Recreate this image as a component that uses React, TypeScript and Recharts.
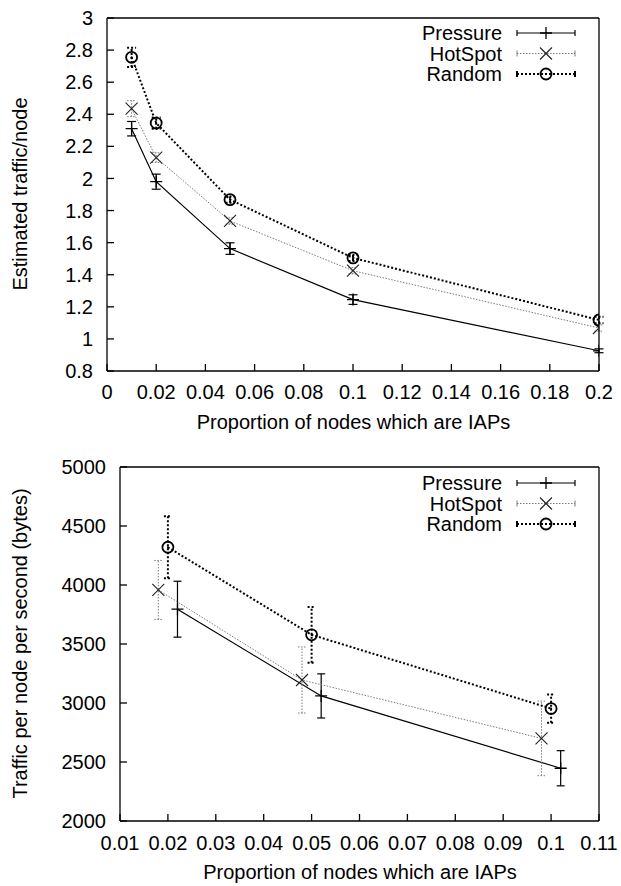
import { LineChart, Line, XAxis, YAxis, ErrorBar } from 'recharts';

// top panel: estimated traffic per node
const topX = [0.01, 0.02, 0.05, 0.1, 0.2];
const topPressure = [2.31, 1.98, 1.563, 1.245, 0.926];
const topPressureErr = [0.045, 0.047, 0.036, 0.03, 0.012];
const topHotSpot = [2.435, 2.13, 1.735, 1.425, 1.068];
const topHotSpotErr = [0.05, 0.03, 0.02, 0.02, 0.02];
const topRandom = [2.755, 2.345, 1.868, 1.505, 1.118];
const topRandomErr = [0.06, 0.035, 0.02, 0.02, 0.02];
const topXTicks = [0, 0.02, 0.04, 0.06, 0.08, 0.1, 0.12, 0.14, 0.16, 0.18, 0.2];
const topYTicks = [0.8, 1, 1.2, 1.4, 1.6, 1.8, 2, 2.2, 2.4, 2.6, 2.8, 3];

// bottom panel: traffic per node per second (bytes)
const botPressureX = [0.022, 0.052, 0.102];
const botPressure = [3795, 3060, 2447];
const botPressureErr = [237, 187, 149];
const botHotSpotX = [0.018, 0.048, 0.098];
const botHotSpot = [3958, 3195, 2700];
const botHotSpotErr = [250, 280, 316];
const botRandomX = [0.02, 0.05, 0.1];
const botRandom = [4320, 3578, 2953];
const botRandomErr = [262, 236, 120];
const botXTicks = [0.01, 0.02, 0.03, 0.04, 0.05, 0.06, 0.07, 0.08, 0.09, 0.1, 0.11];
const botYTicks = [2000, 2500, 3000, 3500, 4000, 4500, 5000];

const seriesNames = ['Pressure', 'HotSpot', 'Random'];

const topRows = topX.map((x, i) => ({
  x,
  pressure: topPressure[i],
  pressureErr: topPressureErr[i],
  hotspot: topHotSpot[i],
  hotspotErr: topHotSpotErr[i],
  random: topRandom[i],
  randomErr: topRandomErr[i],
}));

const toRows = (xs: number[], ys: number[], errs: number[]) =>
  xs.map((x, i) => ({ x, y: ys[i], err: errs[i] }));

const botPressureRows = toRows(botPressureX, botPressure, botPressureErr);
const botHotSpotRows = toRows(botHotSpotX, botHotSpot, botHotSpotErr);
const botRandomRows = toRows(botRandomX, botRandom, botRandomErr);

const FONT = '"Liberation Sans", Arial, Helvetica, sans-serif';
const W = 621;
const H = 443;

const styles = [
  { stroke: '#000', width: 1.2, dash: undefined as string | undefined },
  { stroke: '#7a7a7a', width: 1, dash: '1.5 1.5' },
  { stroke: '#000', width: 2, dash: '2 2' },
];

// markers
const drawPlus = (p: any) =>
  p.cx == null ? null : (
    <path
      key={`p${p.index}`}
      d={`M${p.cx - 6},${p.cy}h12M${p.cx},${p.cy - 6}v12`}
      stroke="#000"
      strokeWidth={1.3}
      fill="none"
    />
  );

const drawCross = (p: any) =>
  p.cx == null ? null : (
    <path
      key={`c${p.index}`}
      d={`M${p.cx - 6},${p.cy - 6}L${p.cx + 6},${p.cy + 6}M${p.cx - 6},${p.cy + 6}L${p.cx + 6},${p.cy - 6}`}
      stroke="#222"
      strokeWidth={1.1}
      fill="none"
    />
  );

const drawCircle = (p: any) =>
  p.cx == null ? null : (
    <g key={`r${p.index}`}>
      <circle cx={p.cx} cy={p.cy} r={5.5} stroke="#000" strokeWidth={1.8} fill="none" />
      <circle cx={p.cx} cy={p.cy} r={1} fill="#000" />
    </g>
  );

const markers = [drawPlus, drawCross, drawCircle];

const tickStyle = { fontSize: 20, fill: '#000', fontFamily: FONT };
const axisLine = { stroke: '#000', strokeWidth: 1.3 };

// legend + axis titles drawn over the chart
const Overlay = ({
  plotLeft,
  plotRight,
  plotTop,
  plotBottom,
  xTitle,
  yTitle,
  legendY,
}: {
  plotLeft: number;
  plotRight: number;
  plotTop: number;
  plotBottom: number;
  xTitle: string;
  yTitle: string;
  legendY: number;
}) => {
  const midY = (plotTop + plotBottom) / 2;
  return (
    <svg
      width={W}
      height={H}
      style={{ position: 'absolute', left: 0, top: 0, pointerEvents: 'none', fontFamily: FONT }}
    >
      <text
        x={20}
        y={midY}
        fontSize={20}
        textAnchor="middle"
        dominantBaseline="central"
        transform={`rotate(-90 20 ${midY})`}
      >
        {yTitle}
      </text>
      <text
        x={(plotLeft + plotRight) / 2}
        y={plotBottom + 51}
        fontSize={20}
        textAnchor="middle"
        dominantBaseline="central"
      >
        {xTitle}
      </text>
      {seriesNames.map((name, i) => {
        const y = legendY + i * 20.5;
        const s = styles[i];
        return (
          <g key={name}>
            <text x={502} y={y} fontSize={20} textAnchor="end" dominantBaseline="central">
              {name}
            </text>
            <line x1={517} x2={575} y1={y} y2={y} stroke={s.stroke} strokeWidth={s.width} strokeDasharray={s.dash} />
            <line x1={517} x2={517} y1={y - 3} y2={y + 3} stroke={s.stroke} strokeWidth={s.width} />
            <line x1={575} x2={575} y1={y - 3} y2={y + 3} stroke={s.stroke} strokeWidth={s.width} />
            {markers[i]({ cx: 546, cy: y, index: name })}
          </g>
        );
      })}
    </svg>
  );
};

// invisible series so the mirrored top/right axes get drawn
const ghostLine = (data: any[], key: string) => (
  <Line
    xAxisId="t"
    yAxisId="r"
    data={data}
    dataKey={key}
    stroke="none"
    dot={false}
    activeDot={false}
    legendType="none"
    isAnimationActive={false}
  />
);

const TopChart = () => (
  <div style={{ position: 'relative', width: W, height: H }}>
    <LineChart
      width={W}
      height={H}
      data={topRows}
      margin={{ top: 17, right: 21, bottom: 0, left: 0 }}
      style={{ fontFamily: FONT }}
    >
      <XAxis
        xAxisId="b"
        dataKey="x"
        type="number"
        domain={[0, 0.2]}
        allowDataOverflow
        ticks={topXTicks}
        height={72}
        tickSize={-7}
        tickMargin={21}
        tick={tickStyle}
        axisLine={axisLine}
        tickLine={axisLine}
      />
      <XAxis
        xAxisId="t"
        dataKey="x"
        orientation="top"
        type="number"
        domain={[0, 0.2]}
        allowDataOverflow
        ticks={topXTicks}
        height={1}
        tickSize={-7}
        tick={false}
        axisLine={axisLine}
        tickLine={axisLine}
      />
      <YAxis
        yAxisId="l"
        type="number"
        domain={[0.8, 3]}
        allowDataOverflow
        ticks={topYTicks}
        width={107}
        tickSize={-7}
        tickMargin={21}
        tick={tickStyle}
        axisLine={axisLine}
        tickLine={axisLine}
      />
      <YAxis
        yAxisId="r"
        orientation="right"
        type="number"
        domain={[0.8, 3]}
        allowDataOverflow
        ticks={topYTicks}
        width={1}
        tickSize={-7}
        tick={false}
        axisLine={axisLine}
        tickLine={axisLine}
      />
      {ghostLine(topRows, 'pressure')}
      {['pressure', 'hotspot', 'random'].map((key, i) => (
        <Line
          key={key}
          xAxisId="b"
          yAxisId="l"
          dataKey={key}
          stroke={styles[i].stroke}
          strokeWidth={styles[i].width}
          strokeDasharray={styles[i].dash}
          dot={markers[i]}
          activeDot={false}
          isAnimationActive={false}
        >
          <ErrorBar
            dataKey={`${key}Err`}
            direction="y"
            width={4.5}
            stroke={styles[i].stroke}
            strokeWidth={styles[i].width}
            strokeDasharray={styles[i].dash}
            isAnimationActive={false}
          />
        </Line>
      ))}
    </LineChart>
    <Overlay
      plotLeft={107}
      plotRight={600}
      plotTop={17}
      plotBottom={371}
      xTitle="Proportion of nodes which are IAPs"
      yTitle="Estimated traffic/node"
      legendY={33}
    />
  </div>
);

const BottomChart = () => {
  const series = [botPressureRows, botHotSpotRows, botRandomRows];
  return (
    <div style={{ position: 'relative', width: W, height: H }}>
      <LineChart
        width={W}
        height={H}
        margin={{ top: 23, right: 21, bottom: 0, left: 0 }}
        style={{ fontFamily: FONT }}
      >
        <XAxis
          xAxisId="b"
          dataKey="x"
          type="number"
          domain={[0.01, 0.11]}
          allowDataOverflow
          ticks={botXTicks}
          height={65}
          tickSize={-7}
          tickMargin={22}
          tick={tickStyle}
          axisLine={axisLine}
          tickLine={axisLine}
        />
        <XAxis
          xAxisId="t"
          dataKey="x"
          orientation="top"
          type="number"
          domain={[0.01, 0.11]}
          allowDataOverflow
          ticks={botXTicks}
          height={1}
          tickSize={-7}
          tick={false}
          axisLine={axisLine}
          tickLine={axisLine}
        />
        <YAxis
          yAxisId="l"
          type="number"
          domain={[2000, 5000]}
          allowDataOverflow
          ticks={botYTicks}
          width={120}
          tickSize={-7}
          tickMargin={21}
          tick={tickStyle}
          axisLine={axisLine}
          tickLine={axisLine}
        />
        <YAxis
          yAxisId="r"
          orientation="right"
          type="number"
          domain={[2000, 5000]}
          allowDataOverflow
          ticks={botYTicks}
          width={1}
          tickSize={-7}
          tick={false}
          axisLine={axisLine}
          tickLine={axisLine}
        />
        {ghostLine(botRandomRows, 'y')}
        {series.map((rows, i) => (
          <Line
            key={seriesNames[i]}
            xAxisId="b"
            yAxisId="l"
            data={rows}
            dataKey="y"
            stroke={styles[i].stroke}
            strokeWidth={styles[i].width}
            strokeDasharray={styles[i].dash}
            dot={markers[i]}
            activeDot={false}
            isAnimationActive={false}
          >
            <ErrorBar
              dataKey="err"
              direction="y"
              width={4}
              stroke={styles[i].stroke}
              strokeWidth={styles[i].width}
              strokeDasharray={styles[i].dash}
              isAnimationActive={false}
            />
          </Line>
        ))}
      </LineChart>
      <Overlay
        plotLeft={120}
        plotRight={600}
        plotTop={23}
        plotBottom={378}
        xTitle="Proportion of nodes which are IAPs"
        yTitle="Traffic per node per second (bytes)"
        legendY={40}
      />
    </div>
  );
};

export default function App() {
  return (
    <div style={{ position: 'absolute', left: 0, top: 0, width: W, height: 886, background: '#fff' }}>
      <TopChart />
      <BottomChart />
    </div>
  );
}
